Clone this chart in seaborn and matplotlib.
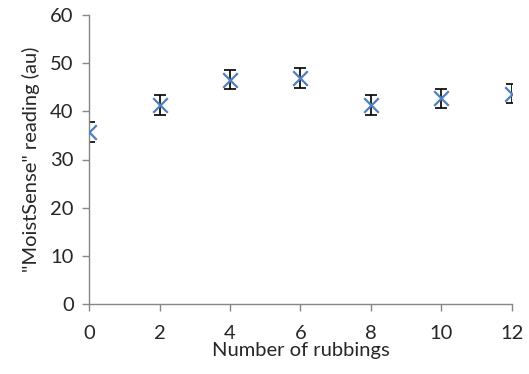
import pandas as pd
import matplotlib
matplotlib.use('Agg')
import matplotlib.pyplot as plt
import seaborn as sns

rubbings = [0, 2, 4, 6, 8, 10, 12]
reading = [35.7, 41.3, 46.6, 47.0, 41.3, 42.7, 43.7]
error = [2.0, 2.0, 2.0, 2.1, 2.0, 2.0, 2.0]

df = pd.DataFrame({'rubbings': rubbings, 'reading': reading, 'error': error})

sns.set_style('white')
plt.rcParams['font.family'] = ['Lato', 'DejaVu Sans']

fig = plt.figure(figsize=(5.29, 3.74), dpi=100)
ax = fig.add_axes([89 / 529, 1 - 304 / 374, (512 - 89) / 529, (304 - 15) / 374])

ax.errorbar(df['rubbings'], df['reading'], yerr=df['error'], fmt='none',
            ecolor='black', elinewidth=1.2, capsize=4, capthick=1.2, zorder=2)
sns.scatterplot(data=df, x='rubbings', y='reading', marker='x', s=110,
                color='#4F81BD', linewidth=1.6, ax=ax, zorder=3)

ax.set_xlim(0, 12)
ax.set_ylim(0, 60)
ax.set_xticks(range(0, 13, 2))
ax.set_yticks(range(0, 61, 10))
ax.set_xlabel('Number of rubbings', fontsize=14.5, labelpad=0)
ax.set_ylabel('"MoistSense" reading (au)', fontsize=14.5, labelpad=7)
ax.tick_params(axis='both', labelsize=14.5, length=5, width=1, color='#868686',
               direction='out', left=True, bottom=True)
ax.tick_params(axis='x', pad=10)
ax.tick_params(axis='y', pad=6)
for s in ['top', 'right']:
    ax.spines[s].set_visible(False)
for s in ['left', 'bottom']:
    ax.spines[s].set_color('#868686')
    ax.spines[s].set_linewidth(1)
for sp in ax.spines.values():
    sp.set_clip_on(False)

plt.savefig('out.png', dpi=100)
